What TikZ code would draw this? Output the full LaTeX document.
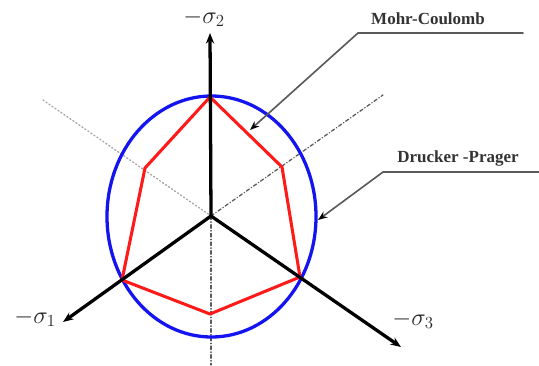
\documentclass[tikz,border=0pt]{standalone}
\usepackage{fontspec}
\setmainfont{Liberation Serif}
\usetikzlibrary{arrows.meta}
\definecolor{mcred}{HTML}{FF1A1A}
\definecolor{dpblue}{HTML}{1414F0}
\definecolor{guide}{HTML}{5A5A5A}

\tikzset{
  axis/.style={line width=2.8pt,-{Stealth[length=9pt,width=7pt]}},
  leader/.style={guide,line width=1.4pt,-{Stealth[length=8pt,width=6pt,black]}},
  callout/.style={font=\fontsize{14.5}{17}\selectfont\bfseries,text=black!80},
  axlabel/.style={font=\fontsize{22}{25}\selectfont,text=black!85}
}

\begin{document}
\begin{tikzpicture}[x=0.03cm,y=-0.03cm,line cap=round,line join=round]
  \useasboundingbox (0,0) rectangle (539,365);
  % centre and axis ends
  \coordinate (O) at (211,216);
  \coordinate (s1) at (63,322);
  \coordinate (s2) at (210,33);
  \coordinate (s3) at (401,347);
  % guide lines through the centre
  \draw[guide!55,dotted,line width=1.1pt] (43,100) -- (O);
  \draw[guide,dash dot,line width=1.1pt] (O) -- (383,95);
  \draw[guide,dash dot,line width=1.1pt] (O) -- (211,365);
  % Drucker-Prager cone section
  \draw[dpblue,line width=2.8pt] (211.5,216.5) ellipse [x radius=104.5,y radius=120.5];
  % Mohr-Coulomb hexagon
  \draw[mcred,line width=2.6pt] (210,97) -- (282,167) -- (300,277) -- (210,314)
    -- (122,280) -- (145,168) -- cycle;
  % principal stress axes
  \draw[axis] (O) -- (s1);
  \draw[axis] (O) -- (s2);
  \draw[axis] (O) -- (s3);
  \node[axlabel] (l1) at (35,318) {$-\sigma_1$};
  \node[axlabel] (l2) at (204,18) {$-\sigma_2$};
  \node[axlabel] (l3) at (413,320) {$-\sigma_3$};
  % callouts
  \node[callout] (mc) at (428,19) {Mohr-Coulomb};
  \node[callout] (dp) at (458,158) {Drucker -Prager};
  \coordinate (mcknee) at (358,33);
  \coordinate (mctip) at (250,130);
  \coordinate (dpknee) at (383,172);
  \coordinate (dptip) at (318,220);
  \draw[guide,line width=1.4pt] (523,33) -- (mcknee);
  \draw[guide,line width=1.4pt] (539,172) -- (dpknee);
  \draw[leader] (mcknee) -- (mctip);
  \draw[leader] (dpknee) -- (dptip);
\end{tikzpicture}
\end{document}
